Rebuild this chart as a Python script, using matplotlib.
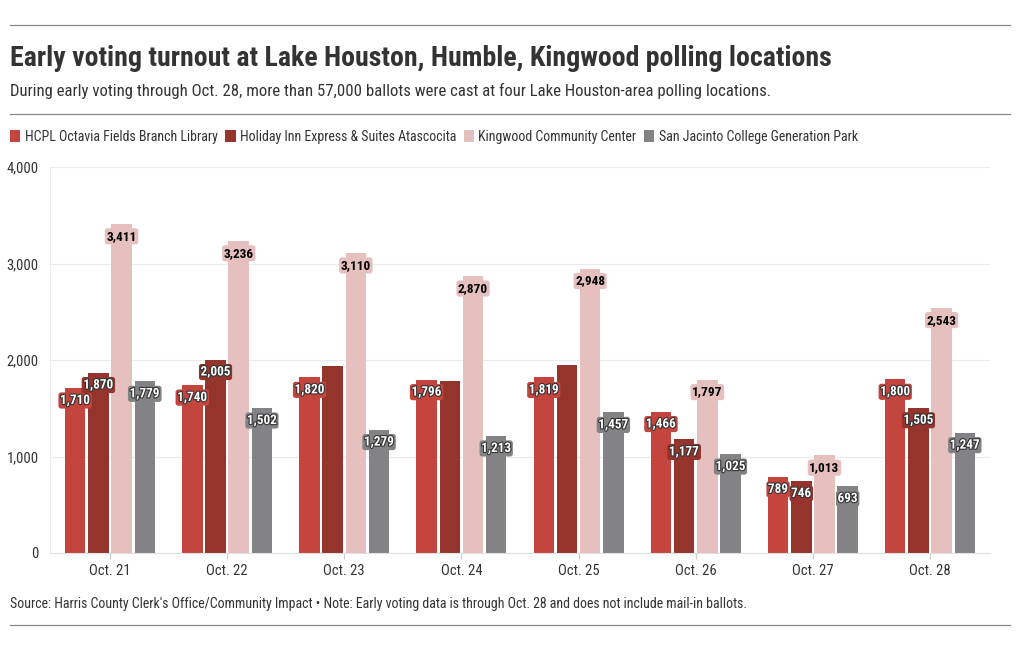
import matplotlib
matplotlib.use("Agg")
import matplotlib.pyplot as plt
import matplotlib.patheffects as pe
from matplotlib import font_manager
import numpy as np

dates = ["Oct. 21", "Oct. 22", "Oct. 23", "Oct. 24", "Oct. 25", "Oct. 26", "Oct. 27", "Oct. 28"]
locations = [
    "HCPL Octavia Fields Branch Library",
    "Holiday Inn Express & Suites Atascocita",
    "Kingwood Community Center",
    "San Jacinto College Generation Park",
]
hcpl = [1710, 1740, 1820, 1796, 1819, 1466, 789, 1800]
holiday = [1870, 2005, 1935, 1778, 1945, 1177, 746, 1505]
kingwood = [3411, 3236, 3110, 2870, 2948, 1797, 1013, 2543]
sanjac = [1779, 1502, 1279, 1213, 1457, 1025, 693, 1247]
# labels the original hides because they collide
hidden = {(1, 2), (1, 3), (1, 4)}

colors = ["#c4443e", "#94342c", "#e5c0bf", "#838385"]
label_text = ["white", "white", "black", "white"]

installed = {f.name for f in font_manager.fontManager.ttflist}
fam = [f for f in ["Roboto Condensed", "Liberation Sans Narrow", "Roboto"] if f in installed] or ["DejaVu Sans"]
plt.rcParams["font.family"] = fam + ["DejaVu Sans"]

fig = plt.figure(figsize=(10.2, 6.5), dpi=100)
ax = fig.add_axes([50 / 1020, 1 - 553 / 650, 940 / 1020, (553 - 167) / 650])

series = [hcpl, holiday, kingwood, sanjac]
x = np.arange(len(dates))
pitch, width = 0.198, 0.175
for i, vals in enumerate(series):
    xs = x + (i - 1.5) * pitch
    ax.bar(xs, vals, width=width, color=colors[i], zorder=2, label=locations[i])
    for j, (xx, v) in enumerate(zip(xs, vals)):
        if (i, j) in hidden:
            continue
        t = ax.annotate(f"{v:,}", (xx, v), xytext=(0, -9), textcoords="offset points",
                        ha="center", va="center", fontsize=9.5, fontweight="bold",
                        color=label_text[i], zorder=4,
                        bbox=dict(boxstyle="round,pad=0.12,rounding_size=0.2",
                                  fc=colors[i], ec="none"))
        if label_text[i] == "white":
            t.set_path_effects([pe.withStroke(linewidth=1.6, foreground="#333333")])

ax.set_xlim(-0.512, len(dates) - 0.488)
ax.set_ylim(0, 4000)
ax.set_yticks([0, 1000, 2000, 3000, 4000])
ax.set_yticklabels(["0", "1,000", "2,000", "3,000", "4,000"])
ax.set_xticks(x)
ax.set_xticklabels(dates)
ax.tick_params(axis="y", length=0, labelsize=10.5, colors="#333333", pad=8)
ax.tick_params(axis="x", length=4, color="#cccccc", labelsize=10.5, labelcolor="#333333", pad=4)
ax.grid(axis="y", color="#ebebeb", linewidth=0.8, zorder=0)
for s in ["top", "right"]:
    ax.spines[s].set_visible(False)
ax.spines["left"].set_color("#ebebeb")
ax.spines["bottom"].set_color("#e0e0e0")

# header / footer
for y in [25, 114, 625]:
    fig.add_artist(plt.Line2D([10 / 1020, 1010 / 1020], [1 - y / 650] * 2, color="#888888", lw=0.9))
fig.text(10 / 1020, 1 - 58 / 650, "Early voting turnout at Lake Houston, Humble, Kingwood polling locations",
         fontsize=20.1, fontweight="bold", color="#333333", va="center")
fig.text(10 / 1020, 1 - 91 / 650,
         "During early voting through Oct. 28, more than 57,000 ballots were cast at four Lake Houston-area polling locations.",
         fontsize=12.1, color="#333333", va="center")
fig.text(10 / 1020, 1 - 604 / 650,
         "Source: Harris County Clerk's Office/Community Impact \u2022 Note: Early voting data is through Oct. 28 and does not include mail-in ballots.",
         fontsize=10, color="#333333", va="center")

leg = fig.legend(loc="center left", bbox_to_anchor=(10 / 1020, 1 - 137 / 650), ncol=4, frameon=False,
                 fontsize=10, handlelength=0.75, handleheight=0.9, handletextpad=0.3,
                 columnspacing=0.55, borderpad=0, borderaxespad=0, labelcolor="#333333")

fig.savefig("out.png", dpi=100)
